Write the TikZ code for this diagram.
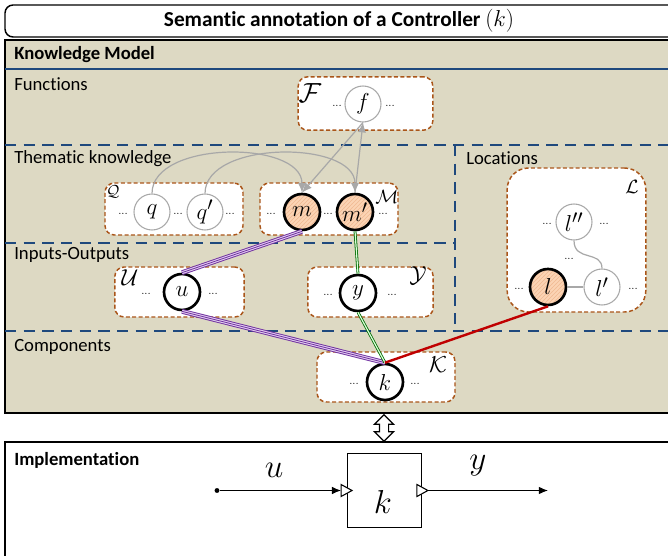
\documentclass[tikz,border=0pt]{standalone}
\usepackage{fontspec}
\setsansfont{Carlito}[Ligatures={NoCommon,NoDiscretionary}]
\usepackage{amsmath}
\usetikzlibrary{arrows.meta,shapes.arrows,patterns,calc}

\definecolor{kmbg}{RGB}{221,217,195}
\definecolor{partblue}{RGB}{31,73,125}
\definecolor{setbrown}{RGB}{170,85,25}
\definecolor{peach}{RGB}{251,212,180}
\definecolor{hatchor}{RGB}{240,185,145}
\definecolor{inpurple}{RGB}{112,48,160}
\definecolor{inlav}{RGB}{225,205,240}
\definecolor{outgreen}{RGB}{0,105,0}
\definecolor{locred}{RGB}{192,0,0}
\definecolor{relgray}{RGB}{168,168,168}

\begin{document}
\begin{tikzpicture}[
    x=0.75pt, y=-0.75pt,
    font=\sffamily\fontsize{14}{16}\selectfont,
    panel/.style={draw=black, line width=1.1pt},
    heading/.style={anchor=west, inner sep=0pt},
    boldhead/.style={heading, font=\sffamily\bfseries\fontsize{14}{16}\selectfont},
    part/.style={draw=partblue, line width=2.2pt, dash pattern=on 8.5pt off 5.5pt},
    setbox/.style={draw=setbrown, line width=1.1pt, dash pattern=on 3pt off 1.8pt, fill=white, rounded corners=7pt, inner sep=0pt},
    setname/.style={inner sep=0pt},
    elem/.style={circle, draw=relgray, line width=0.8pt, fill=white, minimum size=27pt, inner sep=0pt, font=\fontsize{19}{19}\selectfont},
    key/.style={elem, draw=black, line width=2pt},
    hkey/.style={key, preaction={fill=peach}, pattern=north east lines, pattern color=hatchor},
    dots/.style={inner sep=0pt, font=\fontsize{8}{8}\selectfont},
    rel/.style={draw=relgray, line width=0.9pt, -{Latex[length=2.6mm, width=2.2mm]}},
    link/.style={draw=relgray, line width=0.9pt},
    inlink/.style={draw=inpurple, line width=3.6pt, postaction={draw=inlav, line width=2.2pt}, postaction={draw=inpurple, line width=0.6pt}},
    outlink/.style={draw=outgreen, line width=0.6pt, double=white!85!green, double distance=0.9pt},
    loclink/.style={draw=locred, line width=1.8pt},
    sig/.style={line width=0.9pt, -{Latex[length=2.4mm, width=2mm]}},
    port/.style={draw, line width=0.8pt, fill=white}
]
\useasboundingbox (0,0) rectangle (668,556);

% frames
\draw[panel, fill=kmbg] (5,40) rectangle (680,413);
\draw[panel, fill=white, rounded corners=6pt] (5,5) rectangle (690,37);
\draw[panel, fill=white] (5,442) rectangle (690,580);
\node (title) at (339,21) {\bfseries\fontsize{16}{18}\selectfont Semantic annotation of a Controller $(k)$};
\node[boldhead] (lkm) at (14,55) {Knowledge Model};
\node[boldhead] (limp) at (14,460) {Implementation};

% layers of the knowledge model
\draw[partblue, line width=2.2pt] (5,69) -- (668,69);
\draw[part] (5,145) -- (668,145);
\draw[part] (455,145) -- (455,331);
\draw[part] (5,243) -- (455,243);
\draw[part] (5,331) -- (668,331);
\node[heading] (lfun) at (14,84) {Functions};
\node[heading] (lthem) at (14,159) {Thematic knowledge};
\node[heading] (lloc) at (466,158) {Locations};
\node[heading] (lio) at (14,255) {Inputs-Outputs};
\node[heading] (lcomp) at (14,347) {Components};

% sets
\node[setbox, minimum width=101pt, minimum height=40pt] (setF) at (365.5,103.5) {};
\node[setbox, minimum width=103.5pt, minimum height=39pt] (setQ) at (174,209) {};
\node[setbox, minimum width=103.5pt, minimum height=39pt] (setM) at (329,209) {};
\node[setbox, minimum width=97pt, minimum height=37.5pt] (setU) at (179.5,292) {};
\node[setbox, minimum width=94pt, minimum height=37.5pt] (setY) at (370.5,292) {};
\node[setbox, minimum width=103.5pt, minimum height=37.5pt] (setK) at (386,377) {};
\node[setbox, rounded corners=16pt, minimum width=104pt, minimum height=108pt] (setL) at (576.5,240) {};

\node[setname, font=\fontsize{21}{21}\selectfont] (nF) at (310,93) {$\mathcal{F}$};
\node[setname, font=\fontsize{13}{13}\selectfont] (nQ) at (113,192) {$\mathcal{Q}$};
\node[setname, font=\fontsize{14}{14}\selectfont] (nM) at (387,197) {$\mathcal{M}$};
\node[setname, font=\fontsize{19}{19}\selectfont] (nU) at (130,278) {$\mathcal{U}$};
\node[setname, font=\fontsize{19}{19}\selectfont] (nY) at (418,276) {$\mathcal{Y}$};
\node[setname, font=\fontsize{19}{19}\selectfont] (nK) at (438,365) {$\mathcal{K}$};
\node[setname, font=\fontsize{14}{14}\selectfont] (nL) at (632,187) {$\mathcal{L}$};

% elements
\node[elem] (f) at (363,104) {$f$};
\node[elem] (q) at (152,212) {$q$};
\node[elem] (q2) at (205,212) {$q'$};
\node[hkey] (m) at (302,212) {$m$};
\node[hkey] (m2) at (355,212) {$m'$};
\node[key] (u) at (182,292) {$u$};
\node[key] (y) at (358,293) {$y$};
\node[key] (k) at (385,382) {$k$};
\node[elem] (l2) at (574,222) {$l''$};
\node[elem] (l1) at (602,287) {$l'$};
\node[hkey] (l) at (548,287) {$l$};

\foreach \px/\py in {337/106, 390/106, 123/214, 178/214, 230/214, 271/214, 328/214, 383/214,
                     146/294, 213/294, 328/295, 392/295, 354/384, 415/384,
                     547/224, 604/224, 569/259, 519/289, 633/289}
  \node[dots] at (\px,\py) {...};

% relations
\draw[rel] (q.north) .. controls (152,140) and (302,140) .. (m.north);
\draw[rel] (q2.north) .. controls (205,140) and (355,140) .. (m2.north);
\draw[rel] (f.south) -- (m.north);
\draw[rel] (m2.north) -- (f.south);
\draw[link] (l) -- (l1);
\draw[link] (l2.south) .. controls (574,262) and (602,250) .. (l1.north);

% annotation of the component
\draw[inlink] (m.south) -- (u.north);
\draw[inlink] (u.south) -- (k.north);
\draw[outlink] (m2.south) -- (y.north);
\draw[outlink] (y.south) -- (k.north);
\draw[loclink] (l.south) -- (k.north);

\node[double arrow, draw, fill=white, line width=0.9pt, rotate=90, minimum height=20pt,
      inner sep=3pt, double arrow head extend=3.75pt] (bind) at (384,428) {};

% implementation block
\node[draw, line width=0.9pt, minimum width=56pt, minimum height=55pt] (blk) at (384.5,490.5) {};
\node[font=\fontsize{36}{36}\selectfont] (klbl) at (383,502) {$k$};
\draw[port] (blk.west) ++(-5.5,-6) -- ++(11,6) -- ++(-11,6) -- cycle;
\draw[port] (blk.east) ++(-5.5,-6) -- ++(11,6) -- ++(-11,6) -- cycle;
\coordinate (pin) at ($(blk.west)+(-5.5,0)$);
\coordinate (pout) at ($(blk.east)+(5.5,0)$);
\node[circle, fill, inner sep=1.3pt] (src) at (217,490.5) {};
\coordinate (dst) at (548,490.5);
\draw[sig] (src) -- (pin);
\draw[sig] (pout) -- (dst);
\node[font=\fontsize{34}{34}\selectfont] (lu) at (274,470) {$u$};
\node[font=\fontsize{32}{32}\selectfont] (ly) at (478,466) {$y$};
\end{tikzpicture}
\end{document}
